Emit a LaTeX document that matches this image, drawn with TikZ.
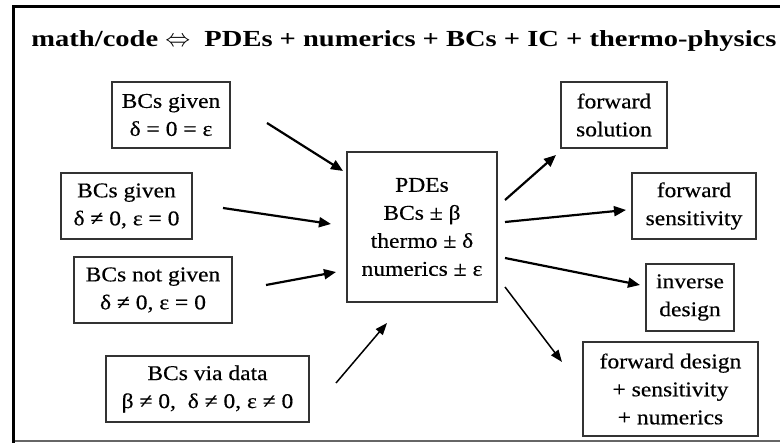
\documentclass[tikz,border=0pt]{standalone}
\usepackage{fontspec}
\setmainfont{Liberation Serif}[FakeStretch=1.24]
\newfontfamily\boxfont{Liberation Serif}[FakeStretch=1.12, FakeBold=0.4]
\usetikzlibrary{arrows.meta}
\begin{document}
\begin{tikzpicture}[x=1pt,y=-1pt,
  box/.style={draw=black!80, line width=1.3pt, inner sep=0pt, align=center,
    font=\boxfont\fontsize{21}{28}\selectfont, text=black},
  arr/.style={-{Triangle[length=12pt,width=10pt]}, line width=2.2pt, black},
  thinarr/.style={-{Triangle[length=12pt,width=9pt]}, line width=1.5pt, black}]
\useasboundingbox (0,0) rectangle (780,443);
% frame
\draw[line width=1.8pt, black!60] (13,441) -- (780,441);
\draw[line width=3pt, black] (13,443) -- (13,7) -- (780,7);
% title
\node[anchor=base, inner sep=0pt, font=\fontsize{23}{26}\selectfont\bfseries] (title) at (404,47)
  {math/code $\Leftrightarrow$\ \ PDEs + numerics + BCs + IC + thermo-physics};
% left boxes
\node[box, minimum width=118pt, minimum height=66pt] (b1) at (171,115) {BCs given\\δ = 0 = ε};
\node[box, minimum width=131pt, minimum height=66pt] (b2) at (126.5,206) {BCs given\\δ ≠ 0, ε = 0};
\node[box, minimum width=158pt, minimum height=66pt] (b3) at (153,290) {BCs not given\\δ ≠ 0, ε = 0};
\node[box, minimum width=203pt, minimum height=66pt] (b4) at (207.5,389) {BCs via data\\β ≠ 0,\ \ δ ≠ 0, ε\ ≠ 0};
% centre
\node[box, minimum width=150pt, minimum height=150pt] (c) at (422,227) {PDEs\\BCs ± β\\thermo ± δ\\numerics ± ε};
% right boxes
\node[box, minimum width=106pt, minimum height=66pt] (r1) at (614,115) {forward\\solution};
\node[box, minimum width=124pt, minimum height=66pt] (r2) at (694,206) {forward\\sensitivity};
\node[box, minimum width=88pt, minimum height=67pt] (r3) at (690,297.5) {inverse\\design};
\node[box, minimum width=175pt, minimum height=94pt] (r4) at (670.5,389) {forward design\\+ sensitivity\\+ numerics};
% arrow end points
\coordinate (a1s) at (267,123); \coordinate (a1e) at (343,171);
\coordinate (a2s) at (223,208); \coordinate (a2e) at (331,224);
\coordinate (a3s) at (266,285); \coordinate (a3e) at (336,272);
\coordinate (a4s) at (336,383); \coordinate (a4e) at (387,323);
\coordinate (o1s) at (505,200); \coordinate (o1e) at (556,155);
\coordinate (o2s) at (505,222); \coordinate (o2e) at (626,210);
\coordinate (o3s) at (505,258); \coordinate (o3e) at (640,285);
\coordinate (o4s) at (505,287); \coordinate (o4e) at (562,362);
\draw[arr] (a1s) -- (a1e);
\draw[arr] (a2s) -- (a2e);
\draw[arr] (a3s) -- (a3e);
\draw[thinarr] (a4s) -- (a4e);
\draw[arr] (o1s) -- (o1e);
\draw[arr] (o2s) -- (o2e);
\draw[arr] (o3s) -- (o3e);
\draw[thinarr] (o4s) -- (o4e);
\end{tikzpicture}
\end{document}
